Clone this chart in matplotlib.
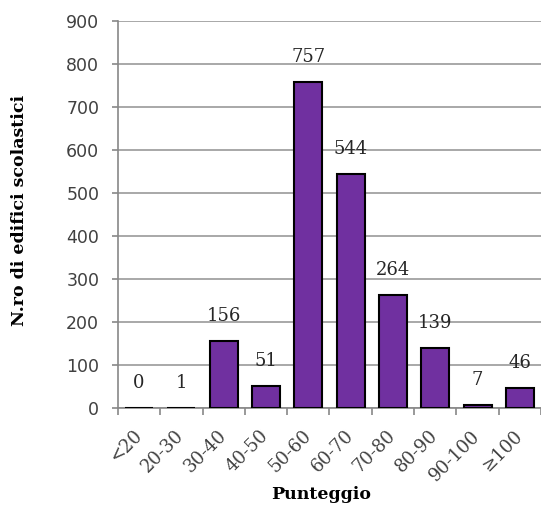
import matplotlib
matplotlib.use("Agg")
import matplotlib.pyplot as plt
import numpy as np

categories = ["<20", "20-30", "30-40", "40-50", "50-60", "60-70", "70-80", "80-90", "90-100", "≥100"]
counts = [0, 1, 156, 51, 757, 544, 264, 139, 7, 46]
y_ticks = [0, 100, 200, 300, 400, 500, 600, 700, 800, 900]

fig = plt.figure(figsize=(5.41, 5.07), dpi=100)
ax = fig.add_axes([0.218, 0.195, 0.782, 0.764])

x = np.arange(len(categories))
ax.bar(x, counts, width=0.66, color="#7030A0", edgecolor="black", linewidth=1.5, zorder=3)

for xi, v in zip(x, counts):
    ax.annotate(str(v), (xi, v), xytext=(0, 11.5), textcoords="offset points",
                ha="center", va="bottom", fontsize=13, family="DejaVu Serif", color="#262626")

ax.set_xlim(-0.5, len(categories) - 0.5)
ax.set_ylim(0, 900)
ax.set_yticks(y_ticks)
ax.set_yticklabels([str(t) for t in y_ticks], fontsize=12.5, color="#404040")
ax.yaxis.grid(True, color="#999999", linewidth=1.2, zorder=0)
ax.set_axisbelow(True)

# category boundaries carry the tick marks
ax.set_xticks(np.arange(len(categories) + 1) - 0.5)
ax.set_xticklabels([])
ax.set_xticks(x, minor=True)
ax.set_xticklabels(categories, minor=True, rotation=45, ha="right", va="center",
                   rotation_mode="anchor", fontsize=13, family="DejaVu Serif", color="#404040")
ax.tick_params(axis="x", which="minor", length=0, pad=18)
ax.tick_params(axis="x", which="major", length=5, color="#888888", width=1.2)
ax.tick_params(axis="y", length=4.5, color="#888888", width=1.2, pad=9)

for s in ["top", "right"]:
    ax.spines[s].set_visible(False)
ax.spines["left"].set_color("#888888")
ax.spines["left"].set_linewidth(1.2)
ax.spines["bottom"].set_color("#888888")
ax.spines["bottom"].set_linewidth(1.2)

ax.set_ylabel("N.ro di edifici scolastici", fontsize=12.5, fontweight="bold",
              family="DejaVu Serif")
ax.set_xlabel("Punteggio", fontsize=12.5, fontweight="bold", family="DejaVu Serif")
ax.yaxis.set_label_coords(-0.213, 0.51)
ax.xaxis.set_label_coords(0.48, -0.2)

fig.savefig("out.png", dpi=100)
